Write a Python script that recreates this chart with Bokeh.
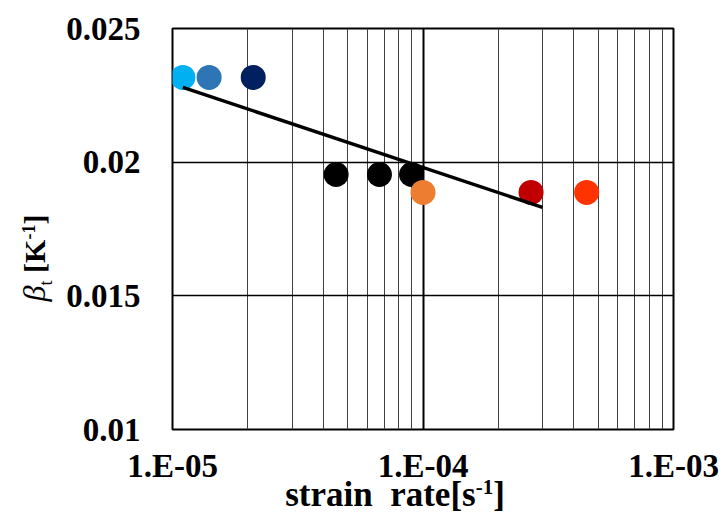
from bokeh.plotting import figure
from bokeh.layouts import row
from bokeh.models import FixedTicker, CustomJSTickFormatter, ColumnDataSource, Div
from bokeh.embed import file_html
from bokeh.resources import INLINE

# ---- data ----
strain_rate = [1.1e-5, 1.4e-5, 2.1e-5, 4.5e-5, 6.7e-5, 9.0e-5, 1.0e-4, 2.7e-4, 4.5e-4]
beta_t = [0.02317, 0.02317, 0.02317, 0.01954, 0.01954, 0.01954, 0.01887, 0.01887, 0.01887]
point_colors = ["#00B0F0", "#2E75B6", "#002060", "#000000", "#000000", "#000000",
                "#ED7D31", "#C00000", "#FF3300"]
trend_x = [1.1e-5, 3.0e-4]
trend_y = [0.02280, 0.01831]
x_major_ticks = [1e-5, 1e-4, 1e-3]
x_minor_ticks = [m * 1e-5 for m in range(2, 10)] + [m * 1e-4 for m in range(2, 10)]
y_ticks = [0.01, 0.015, 0.02, 0.025]

FONT = "Liberation Serif"
LEFT_W = 60

p = figure(width=724 - LEFT_W, height=513, x_axis_type="log",
           x_range=(1e-5, 1e-3), y_range=(0.01, 0.025),
           min_border_left=172 - LEFT_W, min_border_right=51,
           min_border_top=28, min_border_bottom=84,
           output_backend="svg", toolbar_location=None, margin=0)
p.background_fill_color = "white"
p.border_fill_color = None
p.outline_line_color = "black"
p.outline_line_width = 2

xt = FixedTicker(ticks=x_major_ticks, minor_ticks=x_minor_ticks)
yt = FixedTicker(ticks=y_ticks)
p.xaxis.ticker = xt
p.yaxis.ticker = yt
p.xgrid.ticker = xt
p.ygrid.ticker = yt

p.xgrid.grid_line_color = "black"
p.xgrid.grid_line_width = 2
p.xgrid.minor_grid_line_color = "#404040"
p.xgrid.minor_grid_line_width = 1
p.ygrid.grid_line_color = "black"
p.ygrid.grid_line_width = 1.5

p.xaxis.formatter = CustomJSTickFormatter(code="""
const e = Math.round(Math.log10(tick));
return '1.E' + (e < 0 ? '-' : '+') + String(Math.abs(e)).padStart(2, '0');
""")
p.yaxis.formatter = CustomJSTickFormatter(code="""
return tick.toFixed(3).replace(/0+$/, '');
""")

for ax in (p.xaxis[0], p.yaxis[0]):
    ax.axis_line_color = None
    ax.major_tick_line_color = None
    ax.minor_tick_line_color = None
    ax.major_tick_in = 0
    ax.major_tick_out = 0
    ax.minor_tick_in = 0
    ax.minor_tick_out = 0
    ax.major_label_text_font = FONT
    ax.major_label_text_font_style = "bold"
    ax.major_label_text_font_size = "33px"
    ax.major_label_text_color = "black"
    ax.axis_label = None
p.xaxis.major_label_standoff = 18
p.yaxis.major_label_standoff = 32

src = ColumnDataSource(dict(x=strain_rate, y=beta_t, c=point_colors))
p.scatter("x", "y", source=src, size=25, fill_color="c", line_color=None)
p.line(trend_x, trend_y, line_color="black", line_width=3.5)

SUP = "vertical-align:0.55em; line-height:0; font-size:0.6em;"
titles_html = (
    # y-axis title (rotated)
    "<div style=\"position:absolute; left:34px; top:258px; z-index:10; "
    "transform: translate(-50%, -50%) rotate(-90deg); white-space:nowrap; "
    "font-family:'Liberation Serif'; font-size:30px; color:black; line-height:1;\">"
    "<i style=\"font-size:32px;\">\u03b2</i><sub style=\"font-size:18px; line-height:0;\">t</sub> "
    f"<b>[K<sup style=\"{SUP}\">-1</sup>]</b></div>"
    # x-axis title
    "<div style=\"position:absolute; left:395px; top:477px; z-index:10; "
    "transform: translateX(-50%); white-space:nowrap; "
    "font-family:'Liberation Serif'; font-size:35px; font-weight:bold; color:black; line-height:1;\">"
    f"strain&nbsp;&nbsp;rate[s<sup style=\"{SUP}\">-1</sup>]</div>"
)
tdiv = Div(text=titles_html, width=LEFT_W, height=513, margin=0,
           styles={"position": "relative", "overflow": "visible", "z-index": "10"})

layout = row(tdiv, p, spacing=0)
open("out.html", "w").write(file_html(layout, INLINE))
